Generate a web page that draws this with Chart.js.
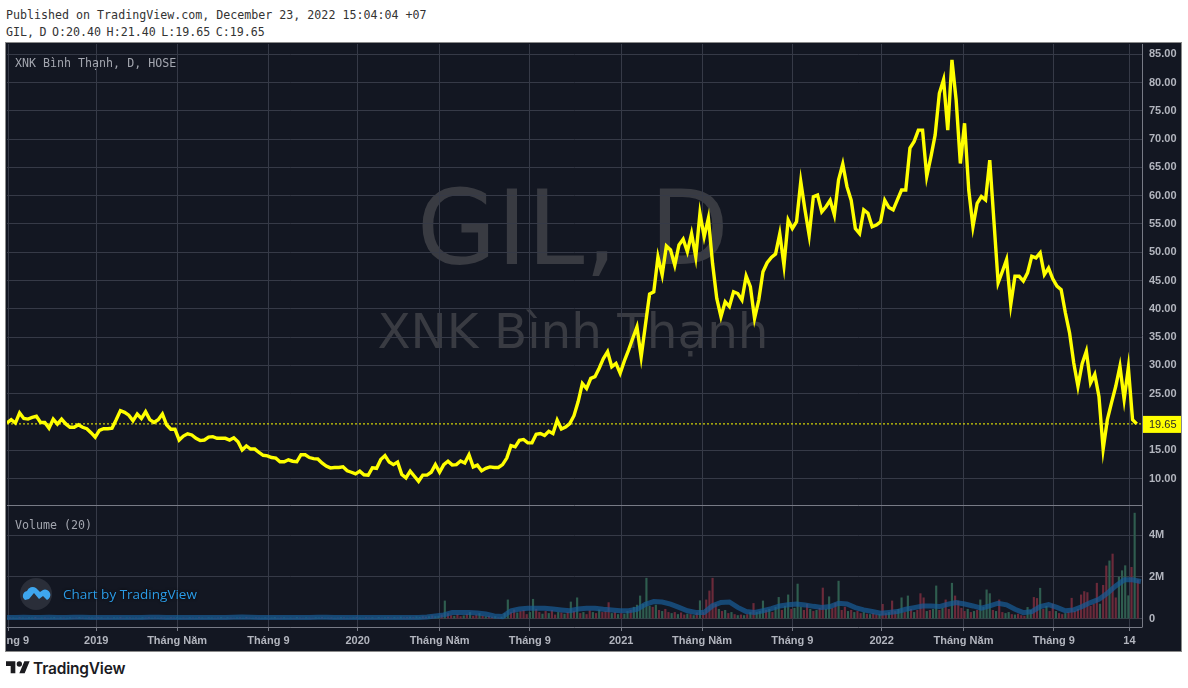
<!DOCTYPE html>
<html>
<head>
<meta charset="utf-8">
<title>GIL, D</title>
<script src="https://cdn.jsdelivr.net/npm/chart.js@4/dist/chart.umd.min.js"></script>
<style>
  html, body { margin: 0; padding: 0; background: #fff; }
  body { position: relative; width: 1188px; height: 688px; overflow: hidden; }
  .mono { position: absolute; font-family: "DejaVu Sans Mono", monospace; font-size: 11.65px; line-height: 14px; white-space: pre; }
  #panel { position: absolute; left: 6px; top: 43px; width: 1175px; height: 608px; background: #131722; box-shadow: 0 0 0 1px #8a8a8a; overflow: hidden; }
  #panel canvas { position: absolute; left: 1px; top: 1px; }
  .wm { position: absolute; font-family: "DejaVu Sans", sans-serif; color: #393b42; white-space: pre; text-align: center; left: 0; width: 1134px; }
  #wm1 { top: 129px; font-size: 103px; line-height: 112px; }
  #wm2 { top: 258px; font-size: 48.4px; line-height: 60px; }
  #panel .mono { color: #a3a6af; }
  #badge { position: absolute; left: 14px; top: 535px; }
  #byline { position: absolute; left: 57px; top: 542px; font: 13.5px/18px "Open Sans", sans-serif; color: #2b9be6; text-shadow: 0 0 3px #000; }
  #logo { position: absolute; left: 6px; top: 660px; }
  #logotext { position: absolute; left: 33px; top: 659px; font: 600 15.5px/20px Inter, sans-serif; color: #1b1b1f; letter-spacing: -0.2px; }
</style>
</head>
<body>
<div class="mono" style="left:6px;top:8px;color:#333">Published on TradingView.com, December 23, 2022 15:04:04 +07</div>
<div class="mono" style="left:6px;top:25px;color:#333;word-spacing:-1.5px">GIL, D O:20.40 H:21.40 L:19.65 C:19.65</div>
<div id="panel">
  <div class="wm" id="wm1">GIL, D</div>
  <div class="wm" id="wm2">XNK Bình Thạnh</div>
  <canvas id="chart" width="1174" height="607"></canvas>
  <div class="mono" style="left:9px;top:13px">XNK Bình Thạnh, D, HOSE</div>
  <div class="mono" style="left:9px;top:475px">Volume (20)</div>
  <svg id="badge" width="32" height="32" viewBox="0 0 32 32">
    <circle cx="16" cy="16" r="16" fill="#2a2e39"/>
    <path d="M5 22 a5 5 0 0 1 2-9 a6 6 0 0 1 9-3 l4 4 l3-2 a5 5 0 0 1 4 10 l-4-4 l-4 3 l-5-6 l-5 6 z" fill="#3ea6ee"/>
  </svg>
  <div id="byline">Chart by TradingView</div>
</div>
<svg id="logo" width="24" height="16" viewBox="0 0 36 24">
  <path d="M14 20H7V9H0V2h14v18zM28 20h-8l7.5-18h8L28 20z" fill="#1b1b1f"/><circle cx="20" cy="6" r="4" fill="#1b1b1f"/>
</svg>
<div id="logotext">TradingView</div>

<script>
// GIL daily close, one value every 4 bars
const PRICE_STEP = 4;
const closes = [
  19.8,20.4,19.8,21.6,20.6,20.5,20.8,21.0,19.9,19.9,18.9,20.5,19.6,20.5,19.65,19.05,19.05,19.5,19.05,18.8,
  18.1,17.3,18.5,18.8,18.8,18.9,20.4,22.0,21.7,21.2,20.2,21.4,20.6,21.8,20.4,19.9,20.4,21.4,19.5,18.7,
  18.7,16.8,17.5,17.9,17.7,17.1,16.7,16.8,17.3,17.4,17.1,17.1,17.1,16.8,17.2,16.5,15.05,15.75,15.2,15.2,
  14.6,14.1,14.0,13.7,13.6,12.95,12.95,13.3,13.05,12.95,14.2,14.2,13.7,13.5,13.45,12.75,12.2,11.87,11.95,11.95,
  12.05,11.35,11.1,10.8,11.3,10.65,10.57,11.9,11.8,13.35,14.05,12.9,12.45,12.9,10.7,10.1,11.3,10.4,9.5,10.6,
  10.6,11.1,12.45,11.1,12.45,13.05,12.4,12.45,13.1,12.75,14.2,12.05,12.35,11.35,11.8,12.05,11.95,11.95,12.45,13.6,
  15.8,15.6,16.75,16.9,16.3,16.3,17.8,17.95,17.6,18.35,17.95,20.3,18.75,19.1,19.7,21.1,23.6,26.8,25.9,27.7,
  28.0,29.5,31.2,32.4,29.75,30.35,28.6,30.8,32.7,34.8,36.8,31.5,37.1,42.6,43.0,49.2,46.0,51.1,50.4,47.7,
  51.3,52.3,50.1,53.3,49.2,56.9,52.75,56.0,48.0,41.85,38.6,41.25,40.4,43.0,42.7,41.55,45.8,43.9,38.3,41.55,
  46.55,48.15,49.1,49.7,53.3,47.7,55.7,54.2,55.4,62.5,57.5,53.0,59.8,60.1,57.15,58.05,59.2,56.6,62.8,65.6,
  61.6,59.2,54.2,53.3,57.5,56.9,54.5,54.8,55.4,59.2,57.9,57.5,59.25,61.0,61.0,68.4,69.6,71.6,71.6,63.4,
  66.9,70.75,78.1,80.5,71.6,84.0,76.9,65.7,72.8,61.0,54.5,58.65,59.85,59.25,66.3,55.4,44.6,46.6,48.7,40.75,
  45.75,45.75,44.9,46.35,49.3,49.0,49.9,46.05,47.2,45.3,44.0,43.4,39.3,35.75,30.4,26.3,30.3,32.5,26.9,28.4,
  24.5,15.2,20.4,23.4,26.3,29.85,24.0,29.6,20.4,19.65
];
const lastPrice = 19.65;

// volume in millions, one value every 3 bars, with its up/down direction
const VOLUME_STEP = 3;
const volumes = [
  .03,.05,.04,.03,.06,.04,.03,.05,.04,.07,.03,.04,.05,.03,.04,.06,.03,.05,.04,.03,
  .05,.03,.04,.06,.04,.03,.05,.04,.03,.06,.05,.03,.04,.03,.05,.04,.07,.03,.04,.05,
  .03,.04,.03,.05,.04,.06,.03,.04,.03,.05,.04,.03,.06,.04,.05,.03,.04,.03,.05,.04,
  .03,.06,.04,.03,.05,.04,.03,.04,.06,.03,.05,.04,.03,.04,.05,.03,.07,.04,.03,.05,
  .04,.03,.05,.03,.04,.06,.03,.04,.05,.03,.04,.03,.06,.04,.03,.05,.04,.03,.05,.04,
  .06,.03,.04,.05,.03,.04,.06,.05,.03,.04,.05,.07,.04,.03,.06,.04,.05,.03,.06,.04,
  .05,.07,.04,.06,.05,.08,.05,.06,.08,.06,.09,.07,.1,.08,.1,.14,.1,
  .12,.18,.85,.25,.15,.12,.2,.1,.14,.22,.3,.12,.18,.25,.14,.1,.12,.08,.1,.05,
  .08,.25,.9,.3,.42,.28,.35,.4,.2,.3,.93,.45,.3,.22,.35,.25,.4,.18,.3,.28,
  .22,.3,.8,.35,1.0,.25,.3,.2,.38,.3,.25,.42,.3,.35,.77,.25,.3,.2,.25,.22,
  .35,.4,.55,.65,1.09,.7,1.94,.6,.55,.65,.4,.35,.45,.3,.25,.3,.2,.28,.18,.22,
  .2,.15,.28,.86,.3,.9,1.33,1.94,.7,.45,.35,.4,.25,.3,.2,.15,.18,.15,.2,.3,
  .73,.3,.35,.85,.4,.45,.3,.55,1.02,.4,.6,1.14,.45,.5,1.66,.55,.4,.7,.45,.35,
  .4,.5,1.47,.45,1.05,.5,.75,1.8,.4,.55,.35,.4,.3,.35,.25,.3,.22,.2,.25,.18,
  .2,.69,.25,.3,.85,.35,.45,1.0,.3,1.09,.45,.3,.4,1.2,1.0,.35,.4,.45,1.57,.4,
  .5,.9,.45,1.7,1.09,.85,.5,.35,.45,.3,.35,.4,.9,.55,1.38,1.2,.4,.35,.9,.3,
  .25,.3,.2,.18,.22,.15,.12,.54,.4,1.02,.97,1.46,.45,.6,.35,.7,.35,.25,.2,.25,
  .3,.98,.35,.45,1.14,1.3,1.25,.6,.7,1.7,.7,1.6,2.53,2.77,3.1,1.0,2.0,2.3,2.54,1.1,
  2.46,5.06,1.86
];
const volumeDirs = (
  'uduududuud' + 'dudduududu' + 'uddudududd' + 'ududuuddud' + 'uduuddudud' + 'dudduuddud' + 'ududuuddud' +
  'uddududdud' + 'duuduuddud' + 'ududdudduu' + 'duddududud' + 'uduuddudud' + 'uddududdud' + 'uuddudu' +
  'ududduddud' + 'uddududdud' + 'uuuddudddu' + 'uddududdud' + 'ududududdu' + 'dudddududu' + 'uduuuuuudu' +
  'duddududdu' + 'dududddddu' + 'dududududu' + 'duuududuud' + 'uuduuuddud' + 'udduuddudd' + 'ududdududd' +
  'uddudduudu' + 'duddduduud' + 'udduddddud' + 'uduuuududd' + 'uududdduud' + 'dududduddu' + 'dddddddddd' +
  'uddudduuuu' + 'dud'
).split('');

// 20 period volume average, millions, one value every 8 bars
const MA_STEP = 8;
const volumeMa = [
  .06,.06,.07,.06,.06,.07,.06,.06,.07,.07,.06,.06,.05,.05,.06,.06,.06,.07,.07,.06,
  .06,.05,.05,.05,.06,.06,.06,.07,.08,.07,.06,.06,.05,.05,.05,.06,.06,.07,.07,.06,
  .06,.05,.05,.05,.06,.06,.06,.05,.05,.06,.08,.13,.18,.29,.30,.30,.27,.22,.13,.10,
  .38,.46,.50,.50,.50,.46,.42,.38,.46,.50,.50,.45,.42,.38,.38,.45,.69,.82,.80,.70,
  .54,.38,.30,.30,.62,.78,.80,.54,.34,.30,.38,.48,.61,.67,.70,.66,.59,.54,.58,.74,
  .70,.53,.42,.34,.26,.30,.34,.45,.53,.61,.61,.58,.69,.77,.70,.61,.50,.61,.74,.66,
  .45,.29,.34,.58,.67,.54,.38,.42,.58,.77,.93,1.22,1.57,1.86,1.86,1.78
];

const priceTicks = [85,80,75,70,65,60,55,50,45,40,35,30,25,15,10];
const volumeTicks = [0,2,4];
const timeTickBars = [1,85,162,249,334,412,498,585,662,748,833,911,997,1069];
const timeTickLabels = ['Tháng 9','2019','Tháng Năm','Tháng 9','2020','Tháng Năm','Tháng 9','2021','Tháng Năm','Tháng 9','2022','Tháng Năm','Tháng 9','14'];

const GRID = '#363a47';
const EDGE = '#787b86';
const YELLOW = '#ffff00';
const UP_BAR = '#2f5d4f';
const DOWN_BAR = '#6b2a3a';
const TICK_FONT = { family: '"Liberation Sans", Arial, sans-serif', size: 11, weight: 'bold' };

const series = (list, step) => list.map((v, i) => ({ x: i * step, y: v }));
const fitRightAxis = s => { s.width = 39; s.paddingTop = 0; s.paddingBottom = 0; };

// pane separators and the last price tag on the axis
const panePlugin = {
  id: 'panes',
  afterDraw(chart) {
    const { ctx, chartArea: a, scales } = chart;
    ctx.save();
    ctx.strokeStyle = EDGE;
    ctx.lineWidth = 1;
    const sep = Math.round(scales.y.bottom) + 0.5;
    ctx.beginPath();
    ctx.moveTo(a.left, sep); ctx.lineTo(a.right, sep);
    ctx.moveTo(a.left, Math.round(a.bottom) + 0.5); ctx.lineTo(a.right + 0.5, Math.round(a.bottom) + 0.5);
    ctx.moveTo(Math.round(a.right) + 0.5, a.top); ctx.lineTo(Math.round(a.right) + 0.5, a.bottom);
    ctx.stroke();
    const py = scales.y.getPixelForValue(lastPrice);
    ctx.fillStyle = YELLOW;
    ctx.fillRect(a.right + 1, py - 8, 39, 17);
    ctx.fillStyle = '#2a2a2a';
    ctx.font = '11px "Liberation Sans", sans-serif';
    ctx.textBaseline = 'middle';
    ctx.fillText(lastPrice.toFixed(2), a.right + 7, py + 1);
    ctx.restore();
  }
};

new Chart(document.getElementById('chart'), {
  type: 'line',
  plugins: [panePlugin],
  data: {
    datasets: [
      { label: 'Last', data: [{ x: 0, y: lastPrice }, { x: 1081, y: lastPrice }], borderColor: YELLOW, borderWidth: 1, borderDash: [2, 2], pointRadius: 0, yAxisID: 'y', order: 1 },
      { label: 'GIL', data: series(closes, PRICE_STEP), borderColor: YELLOW, borderWidth: 3.4, borderJoinStyle: 'miter', pointRadius: 0, tension: 0, yAxisID: 'y', order: 2 },
      { label: 'Volume MA', data: series(volumeMa, MA_STEP), borderColor: 'rgba(24,92,150,0.72)', borderWidth: 5, pointRadius: 0, tension: 0, yAxisID: 'yVol', order: 3 },
      { type: 'bar', label: 'Volume', data: series(volumes, VOLUME_STEP), backgroundColor: volumes.map((v, i) => volumeDirs[i] === 'u' ? UP_BAR : DOWN_BAR), barThickness: 1.5, yAxisID: 'yVol', order: 4 }
    ]
  },
  options: {
    responsive: false,
    animation: false,
    events: [],
    layout: { padding: 0 },
    plugins: { legend: { display: false }, tooltip: { enabled: false } },
    scales: {
      x: {
        type: 'linear', min: 0, max: 1081, offset: false,
        afterBuildTicks: s => { s.ticks = timeTickBars.map(v => ({ value: v })); },
        afterFit: s => { s.paddingLeft = 0; s.paddingRight = 0; s.height = 24; },
        grid: { color: GRID, tickColor: EDGE, tickLength: 4, offset: false },
        border: { display: false },
        ticks: { autoSkip: false, maxRotation: 0, color: '#b2b5be', font: TICK_FONT, padding: 3, callback: (v, i) => timeTickLabels[i] }
      },
      y: {
        position: 'right', stack: 'panes', stackWeight: 461, weight: 1,
        min: 5.31, max: 86.82,
        afterBuildTicks: s => { s.ticks = priceTicks.map(v => ({ value: v })); },
        afterFit: fitRightAxis,
        grid: { color: GRID, drawTicks: false },
        border: { display: false },
        ticks: { autoSkip: false, color: '#b2b5be', font: TICK_FONT, padding: 7, callback: v => v.toFixed(2) }
      },
      yVol: {
        position: 'right', stack: 'panes', stackWeight: 122, weight: 2,
        min: -0.4, max: 5.45,
        afterBuildTicks: s => { s.ticks = volumeTicks.map(v => ({ value: v })); },
        afterFit: fitRightAxis,
        grid: { color: GRID, drawTicks: false },
        border: { display: false },
        ticks: { autoSkip: false, color: '#b2b5be', font: TICK_FONT, padding: 7, callback: v => v === 0 ? '0' : v + 'M' }
      }
    }
  }
});
</script>
</body>
</html>
